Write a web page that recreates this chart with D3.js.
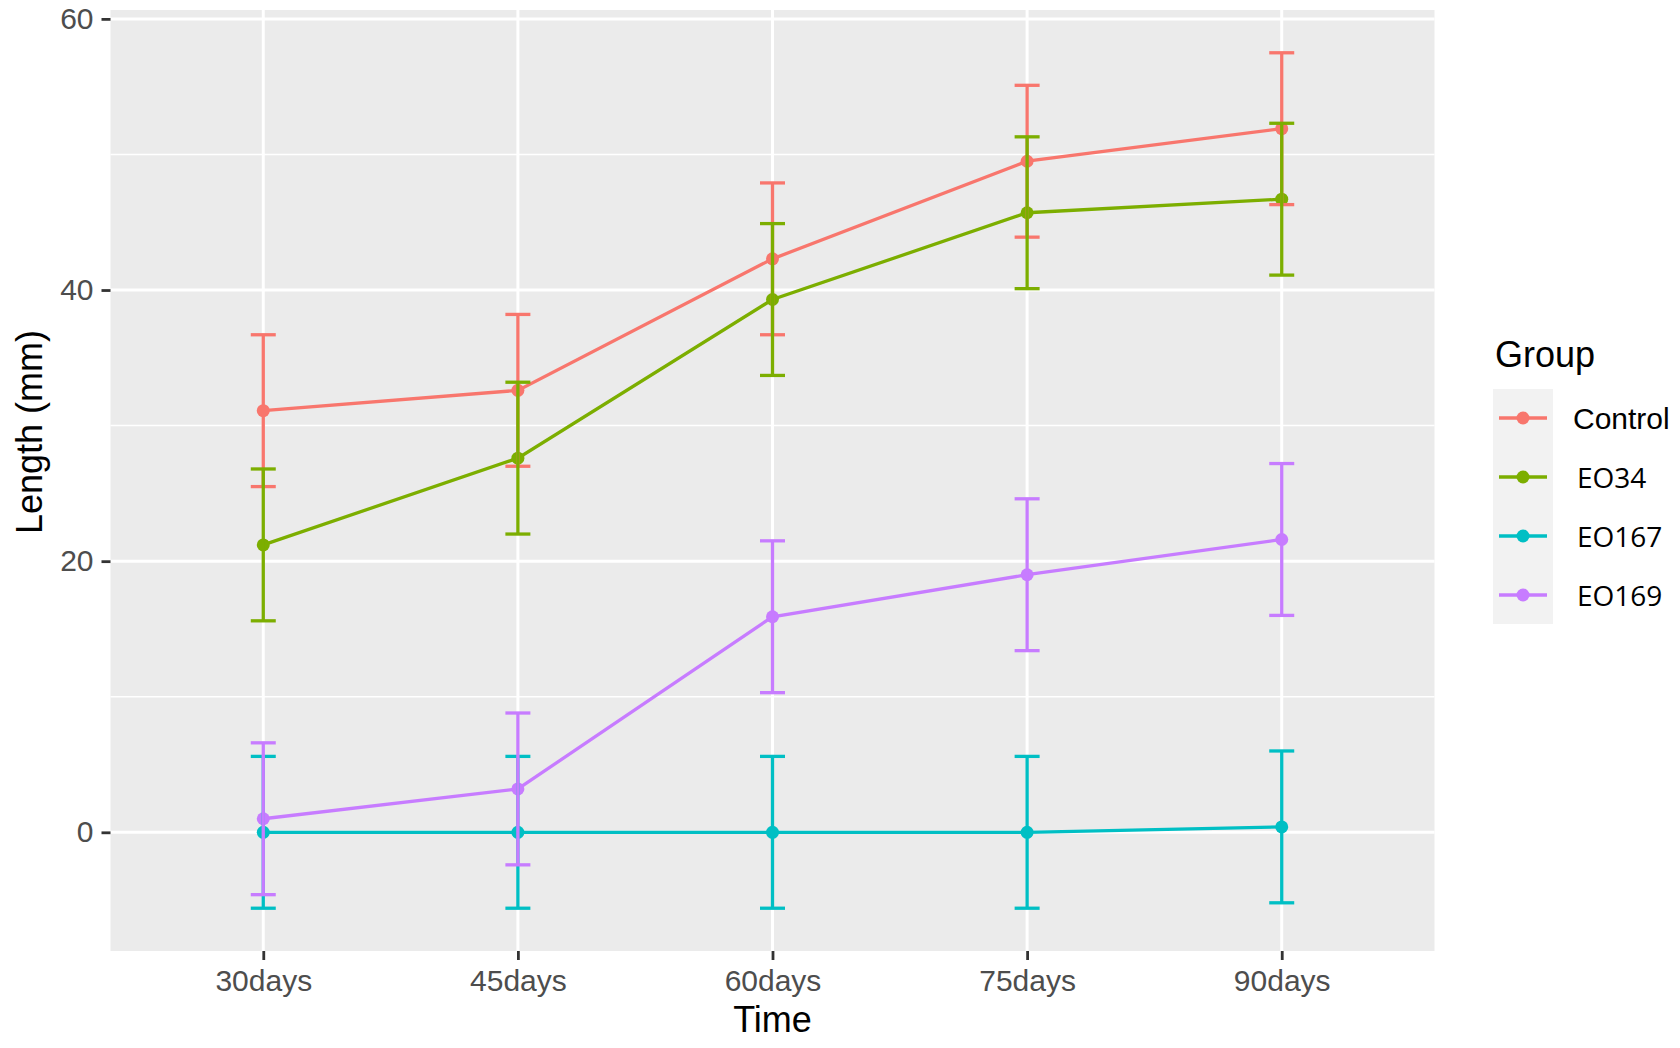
<!DOCTYPE html>
<html>
<head>
<meta charset="utf-8">
<script src="https://cdn.jsdelivr.net/npm/d3@7"></script>
<style>
    body { margin: 0; background: #fff; }
    svg text { font-family: "Liberation Sans", Arial, sans-serif; }
</style>
</head>
<body>
<div id="chart"></div>
<script>
const timepoints = ["30days", "45days", "60days", "75days", "90days"];
const groups = ["Control", "EO34", "EO167", "EO169"];
const groupColors = ["#F8766D", "#7CAE00", "#00BFC4", "#C77CFF"];

// mean length per time point
const controlMean = [31.1, 32.6, 42.3, 49.5, 51.9];
const eo34Mean = [21.2, 27.6, 39.3, 45.7, 46.7];
const eo167Mean = [0, 0, 0, 0, 0.4];
const eo169Mean = [1.0, 3.2, 15.9, 19.0, 21.6];

// half-length of error bar
const controlErr = [5.6, 5.6, 5.6, 5.6, 5.6];
const eo34Err = [5.6, 5.6, 5.6, 5.6, 5.6];
const eo167Err = [5.6, 5.6, 5.6, 5.6, 5.6];
const eo169Err = [5.6, 5.6, 5.6, 5.6, 5.6];

const yTicks = [0, 20, 40, 60];
const yMinor = [10, 30, 50];

const means = [controlMean, eo34Mean, eo167Mean, eo169Mean];
const errs = [controlErr, eo34Err, eo167Err, eo169Err];

const width = 1680, height = 1048;
const panel = { left: 110.5, right: 1434.5, top: 10, bottom: 951 };
const lw = 3.3;

const series = groups.map((g, gi) => ({
    name: g,
    color: groupColors[gi],
    values: timepoints.map((t, i) => ({ t: t, mean: means[gi][i], err: errs[gi][i] }))
}));

const allLo = d3.min(series, s => d3.min(s.values, d => d.mean - d.err));
const allHi = d3.max(series, s => d3.max(s.values, d => d.mean + d.err));
const pad = (allHi - allLo) * 0.05;

const x = d3.scalePoint().domain(timepoints).range([panel.left, panel.right]).padding(0.6);
const y = d3.scaleLinear().domain([allLo - pad, allHi + pad]).range([panel.bottom, panel.top]);

const svg = d3.select("#chart").append("svg")
    .attr("width", width)
    .attr("height", height);

svg.append("rect")
    .attr("x", panel.left).attr("y", panel.top)
    .attr("width", panel.right - panel.left)
    .attr("height", panel.bottom - panel.top)
    .style("fill", "#EBEBEB");

// grid
svg.selectAll(".minor")
    .data(yMinor)
    .enter().append("line")
    .attr("x1", panel.left).attr("x2", panel.right)
    .attr("y1", d => y(d)).attr("y2", d => y(d))
    .style("stroke", "#fff").style("stroke-width", 1.5);

svg.selectAll(".major")
    .data(yTicks)
    .enter().append("line")
    .attr("x1", panel.left).attr("x2", panel.right)
    .attr("y1", d => y(d)).attr("y2", d => y(d))
    .style("stroke", "#fff").style("stroke-width", 3);

svg.selectAll(".vgrid")
    .data(timepoints)
    .enter().append("line")
    .attr("x1", d => x(d)).attr("x2", d => x(d))
    .attr("y1", panel.top).attr("y2", panel.bottom)
    .style("stroke", "#fff").style("stroke-width", 3);

// axes
const yAxis = svg.append("g")
    .attr("transform", `translate(${panel.left},0)`)
    .call(d3.axisLeft(y).tickValues(yTicks).tickSize(9).tickPadding(8));
const xAxis = svg.append("g")
    .attr("transform", `translate(0,${panel.bottom})`)
    .call(d3.axisBottom(x).tickSize(9).tickPadding(10));

[yAxis, xAxis].forEach(ax => {
    ax.select(".domain").remove();
    ax.selectAll(".tick line").style("stroke", "#333").style("stroke-width", 2.8);
    ax.selectAll(".tick text")
        .style("fill", "#4D4D4D")
        .style("font-size", "30px")
        .style("font-family", "'Liberation Sans', Arial, sans-serif");
});

// lines
const line = d3.line().x(d => x(d.t)).y(d => y(d.mean));

svg.selectAll(".series")
    .data(series)
    .enter().append("path")
    .attr("d", d => line(d.values))
    .style("fill", "none")
    .style("stroke", d => d.color)
    .style("stroke-width", lw);

// points
series.forEach(s => {
    svg.selectAll(null)
        .data(s.values)
        .enter().append("circle")
        .attr("cx", d => x(d.t))
        .attr("cy", d => y(d.mean))
        .attr("r", 6.5)
        .style("fill", s.color);
});

// error bars
const capW = 12.5;
series.forEach(s => {
    const eb = svg.selectAll(null)
        .data(s.values)
        .enter().append("g")
        .style("stroke", s.color)
        .style("stroke-width", lw);
    eb.append("line")
        .attr("x1", d => x(d.t)).attr("x2", d => x(d.t))
        .attr("y1", d => y(d.mean - d.err)).attr("y2", d => y(d.mean + d.err));
    eb.append("line")
        .attr("x1", d => x(d.t) - capW).attr("x2", d => x(d.t) + capW)
        .attr("y1", d => y(d.mean + d.err)).attr("y2", d => y(d.mean + d.err));
    eb.append("line")
        .attr("x1", d => x(d.t) - capW).attr("x2", d => x(d.t) + capW)
        .attr("y1", d => y(d.mean - d.err)).attr("y2", d => y(d.mean - d.err));
});

// axis titles
svg.append("text")
    .attr("x", (panel.left + panel.right) / 2)
    .attr("y", 1032)
    .style("text-anchor", "middle")
    .style("font-size", "36px")
    .style("fill", "#000")
    .text("Time");

svg.append("text")
    .attr("transform", "translate(42,432) rotate(-90)")
    .style("text-anchor", "middle")
    .style("font-size", "36px")
    .style("fill", "#000")
    .text("Length (mm)");

// legend
const legend = svg.append("g");
legend.append("text")
    .attr("x", 1495).attr("y", 367)
    .style("font-size", "36px")
    .style("fill", "#000")
    .text("Group");

legend.append("rect")
    .attr("x", 1493).attr("y", 389)
    .attr("width", 60).attr("height", 235)
    .style("fill", "#F2F2F2");

const rowY = d3.scalePoint().domain(groups).range([418, 595]);

const keys = legend.selectAll(".key")
    .data(series)
    .enter().append("g")
    .attr("transform", d => `translate(0,${rowY(d.name)})`);

keys.append("line")
    .attr("x1", 1499).attr("x2", 1547)
    .attr("y1", 0).attr("y2", 0)
    .style("stroke", d => d.color)
    .style("stroke-width", lw);

keys.append("circle")
    .attr("cx", 1523).attr("cy", 0).attr("r", 6.5)
    .style("fill", d => d.color);

keys.append("text")
    .attr("x", d => d.name === "Control" ? 1573 : 1577)
    .attr("y", 11)
    .style("font-size", d => d.name === "Control" ? "30px" : "28px")
    .style("font-family", d => d.name === "Control" ? "'Liberation Sans', Arial, sans-serif" : "'Open Sans', sans-serif")
    .style("fill", "#000")
    .text(d => d.name);
</script>
</body>
</html>
